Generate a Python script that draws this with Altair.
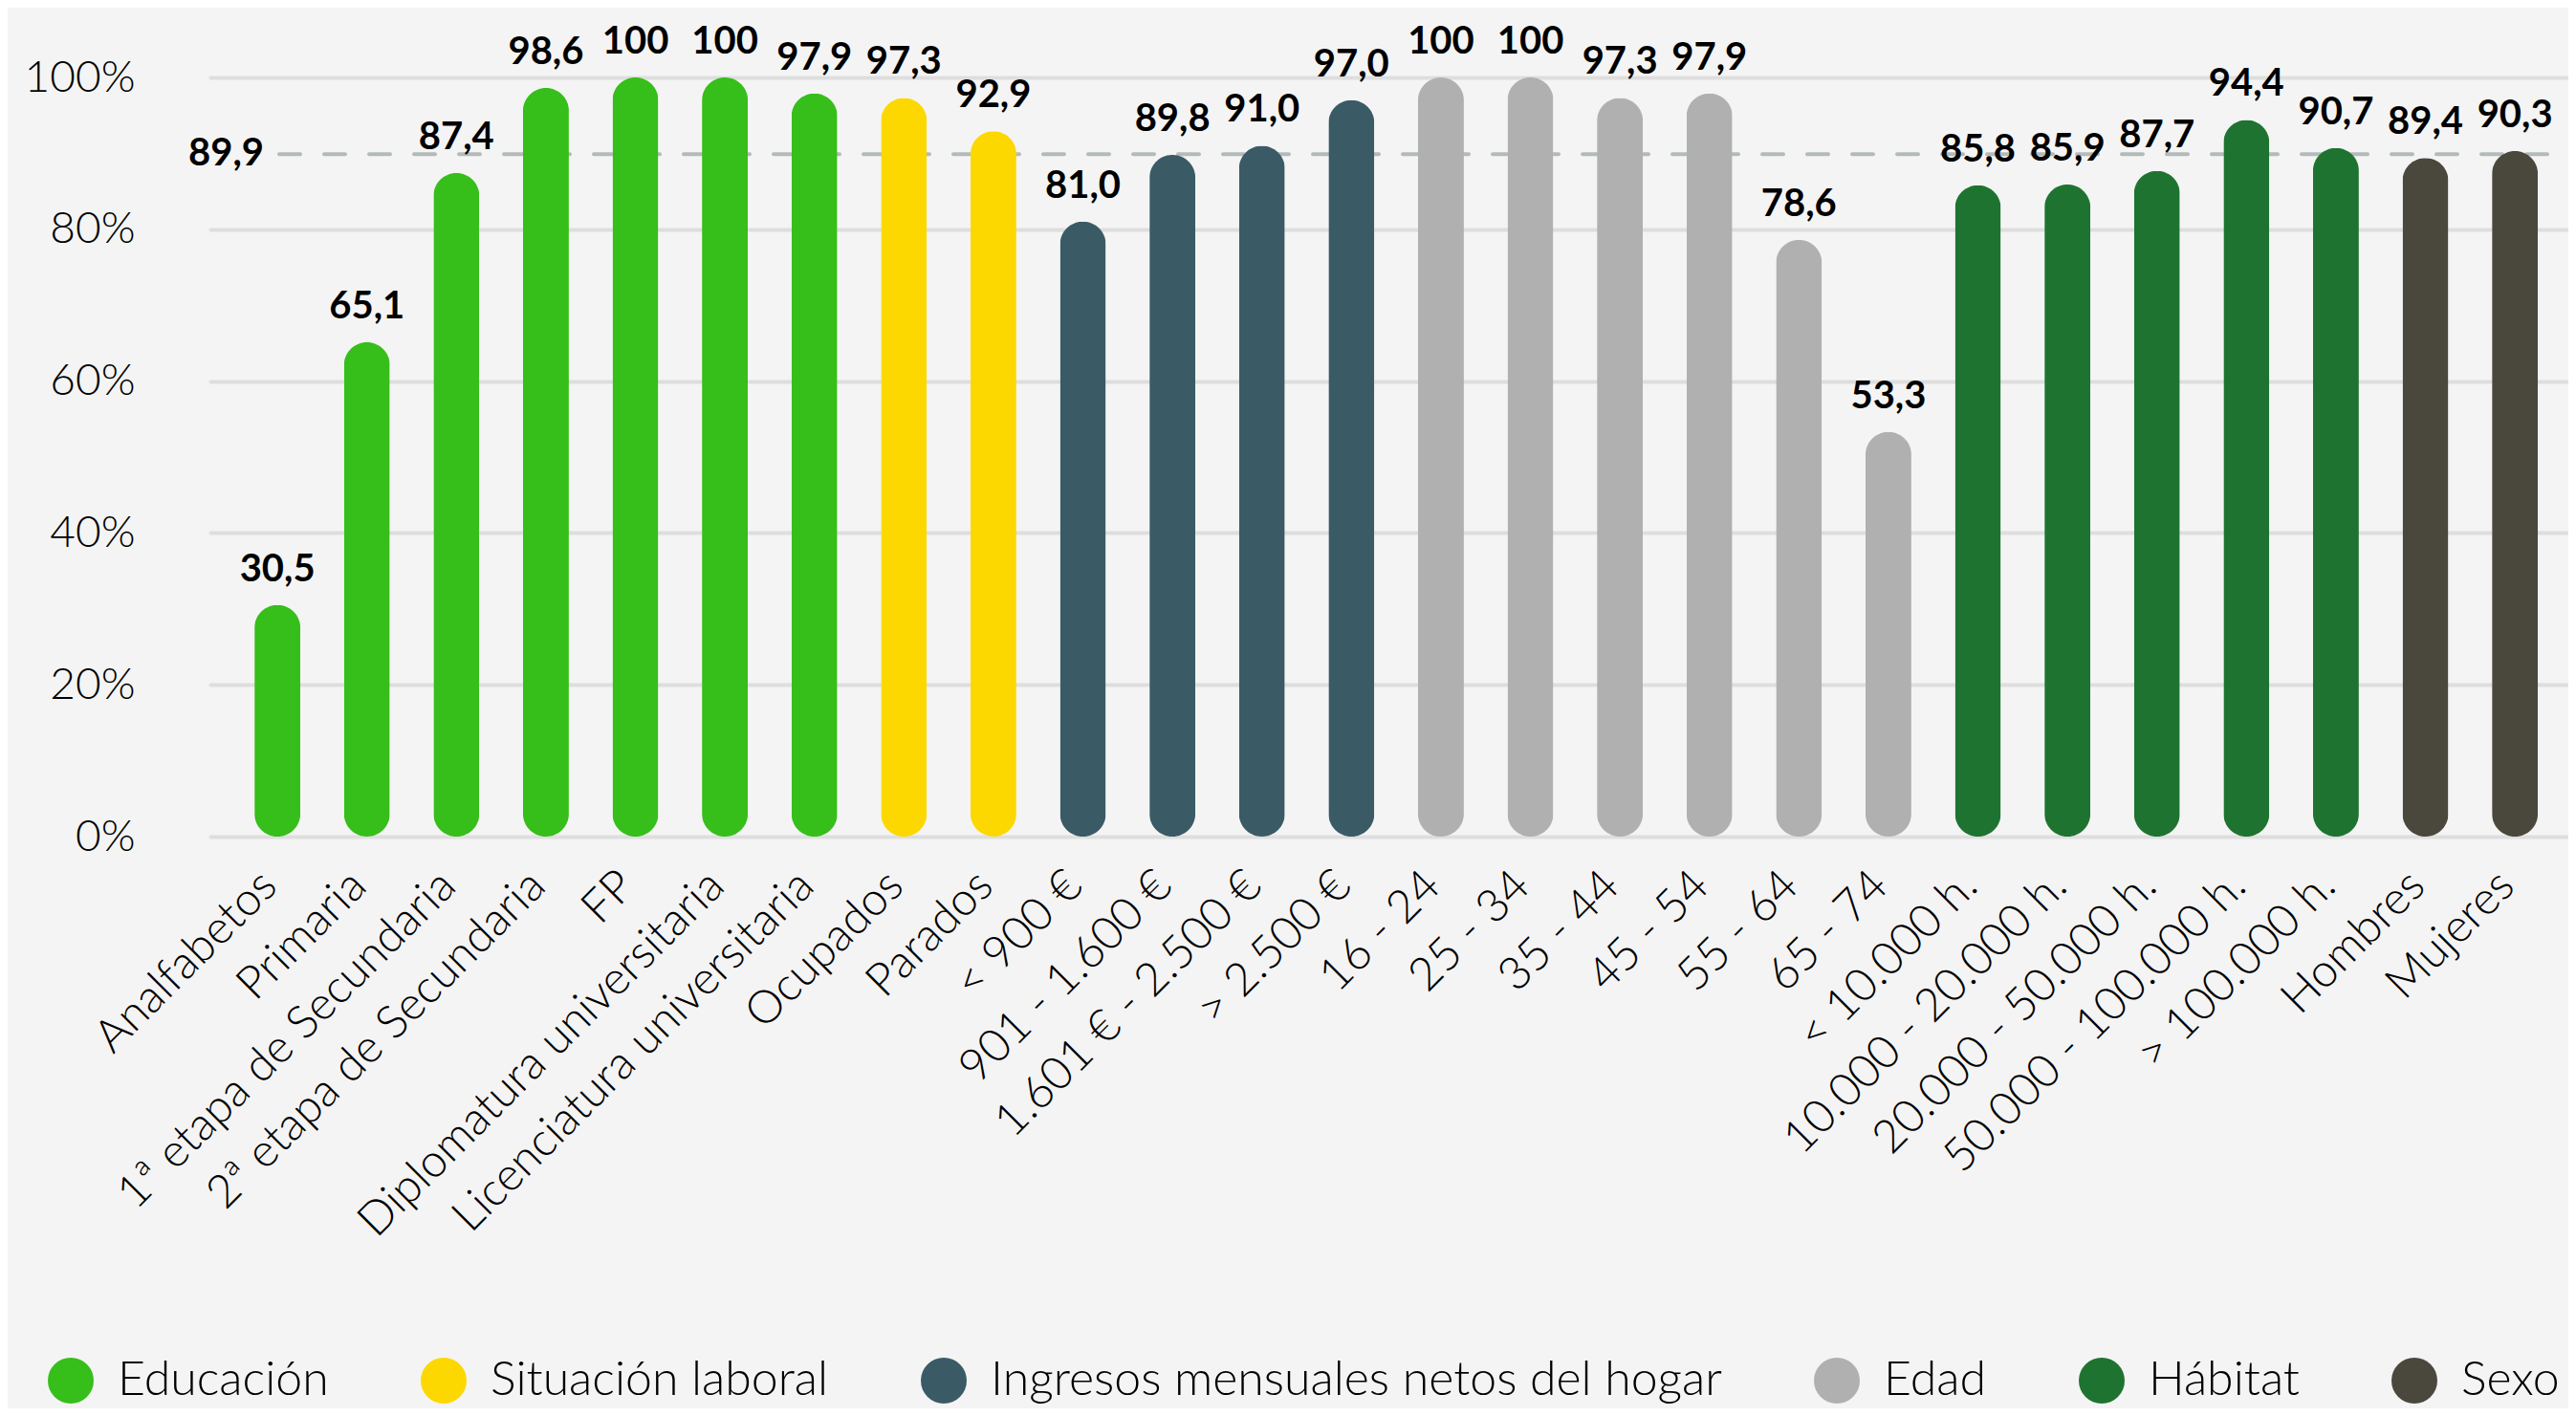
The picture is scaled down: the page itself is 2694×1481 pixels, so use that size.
import altair as alt
import pandas as pd

categories = [
    "Analfabetos", "Primaria", "1ª etapa de Secundaria", "2ª etapa de Secundaria", "FP",
    "Diplomatura universitaria", "Licenciatura universitaria",
    "Ocupados", "Parados",
    "< 900 €", "901 - 1.600 €", "1.601 € - 2.500 €", "> 2.500 €",
    "16 - 24", "25 - 34", "35 - 44", "45 - 54", "55 - 64", "65 - 74",
    "< 10.000 h.", "10.000 - 20.000 h.", "20.000 - 50.000 h.", "50.000 - 100.000 h.", "> 100.000 h.",
    "Hombres", "Mujeres",
]
values = [
    30.5, 65.1, 87.4, 98.6, 100, 100, 97.9,
    97.3, 92.9,
    81.0, 89.8, 91.0, 97.0,
    100, 100, 97.3, 97.9, 78.6, 53.3,
    85.8, 85.9, 87.7, 94.4, 90.7,
    89.4, 90.3,
]
groups = (
    ["Educación"] * 7
    + ["Situación laboral"] * 2
    + ["Ingresos mensuales netos del hogar"] * 4
    + ["Edad"] * 6
    + ["Hábitat"] * 5
    + ["Sexo"] * 2
)
group_names = ["Educación", "Situación laboral", "Ingresos mensuales netos del hogar",
               "Edad", "Hábitat", "Sexo"]
group_colors = ["#36be1a", "#fdd800", "#3a5a66", "#b0b0b0", "#1e7330", "#4a473d"]
average_value = 89.9
y_ticks = [0, 20, 40, 60, 80, 100]


def fmt(v):
    return "100" if v == 100 else f"{v:.1f}".replace(".", ",")


df = pd.DataFrame({"cat": categories, "val": values, "grp": groups})
df["lbl"] = [fmt(v) for v in values]
avg_df = pd.DataFrame({"val": [average_value], "lbl": [fmt(average_value)]})

W, H = 2466, 794
FONT = "Lato"

y_enc = alt.Y(
    "val:Q",
    scale=alt.Scale(domain=[0, 100], nice=False),
    axis=alt.Axis(
        values=y_ticks, labelExpr="datum.value + '%'", title=None,
        labelFont=FONT, labelFontWeight=300, labelFontSize=46, labelColor="#000",
        labelPadding=79, domain=False, ticks=False,
        grid=True, gridColor="#dedede", gridWidth=4, gridCap="round",
    ),
)
x_enc = alt.X(
    "cat:N", sort=categories, title=None,
    scale=alt.Scale(paddingInner=0.5, paddingOuter=0.423, align=0.59),
    axis=alt.Axis(
        labelAngle=-45, labelAlign="right", labelBaseline="middle",
        labelFont=FONT, labelFontWeight=300, labelFontSize=48, labelColor="#000",
        labelPadding=44, labelOffset=-8, labelLimit=1500, labelOverlap=False,
        domain=False, ticks=False, grid=False,
    ),
)

avg_rule = alt.Chart(avg_df).mark_rule(
    color="#b3baba", strokeWidth=4, strokeDash=[22, 25], strokeCap="round"
).encode(y=alt.Y("val:Q"), x=alt.value(72), x2=alt.value(W))

avg_text = alt.Chart(avg_df).mark_text(
    align="right", baseline="middle", font=FONT, fontWeight="bold", fontSize=40, color="#000"
).encode(y=alt.Y("val:Q"), x=alt.value(56), text="lbl:N")

bars = alt.Chart(df).mark_bar(size=48, cornerRadius=24).encode(
    x=x_enc,
    y=y_enc,
    color=alt.Color(
        "grp:N",
        scale=alt.Scale(domain=group_names, range=group_colors),
        legend=alt.Legend(
            orient="none", legendX=-171, legendY=1338, direction="horizontal", columns=6,
            title=None, symbolType="circle", symbolSize=2304, symbolStrokeWidth=0,
            symbolOpacity=1, labelFont=FONT, labelFontWeight=300, labelFontSize=50,
            labelColor="#000", labelOffset=24, columnPadding=95, labelLimit=1500,
        ),
    ),
)

labels = alt.Chart(df).mark_text(
    baseline="alphabetic", dy=-25, font=FONT, fontWeight="bold", fontSize=40, color="#000"
).encode(x=alt.X("cat:N", sort=categories), y=alt.Y("val:Q"), text="lbl:N")

chart = alt.layer(avg_rule, bars, labels, avg_text).properties(
    width=W, height=H,
    autosize=alt.AutoSizeParams(type="none"),
    padding={"left": 212, "top": 73, "right": 0, "bottom": 598},
    background="#f4f4f4",
).configure_view(stroke=None)

chart.save("out.html", embed_options={"renderer": "svg", "actions": False})
